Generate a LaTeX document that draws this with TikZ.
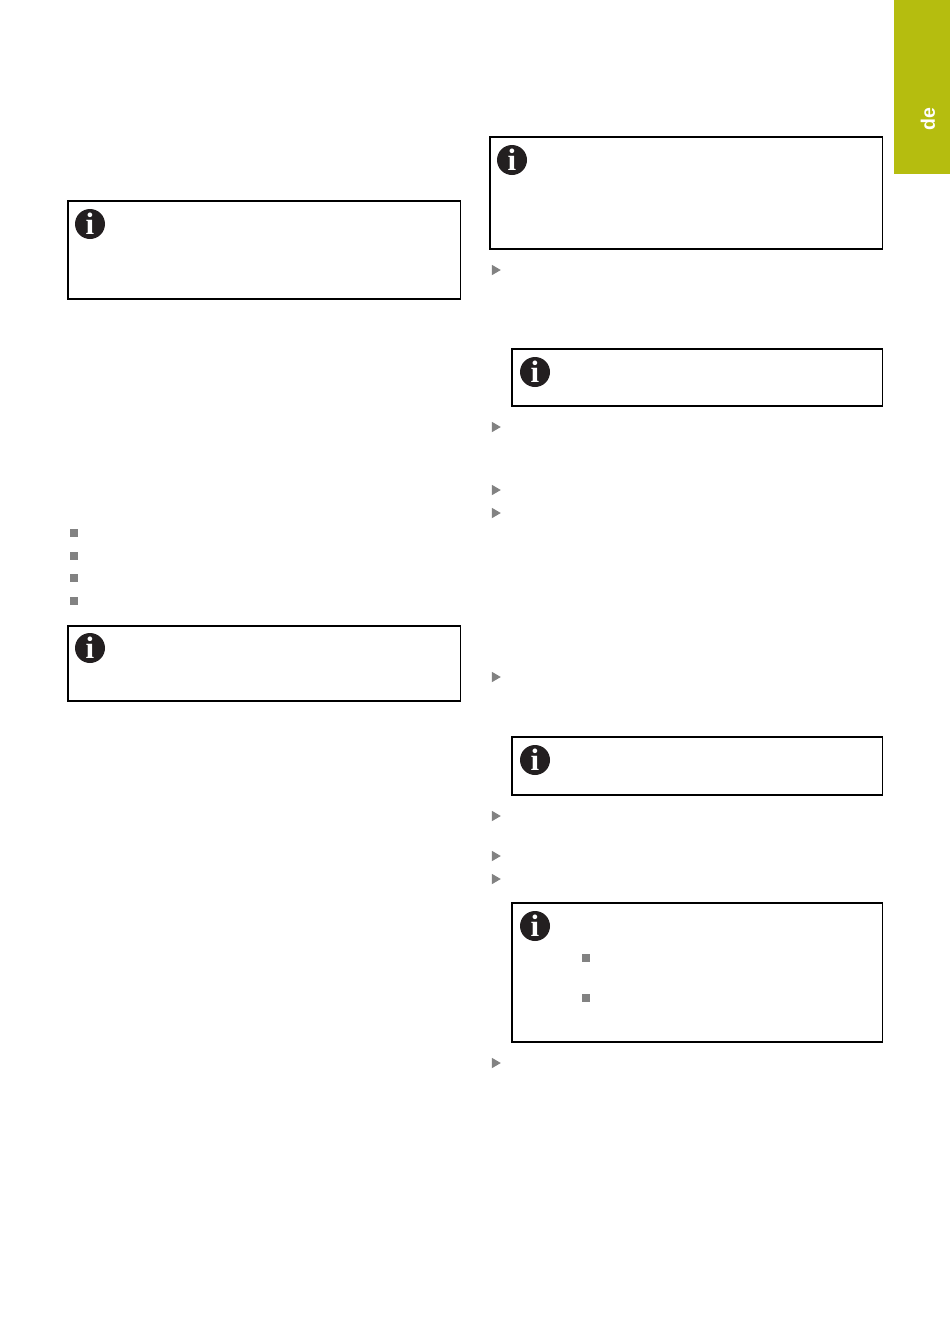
\documentclass[tikz,border=0pt]{standalone}
\usepackage{fontspec}
\setmainfont{Liberation Serif}
\setsansfont{Liberation Sans}
\usetikzlibrary{shapes.geometric}
\definecolor{tabgreen}{HTML}{B5BD0F}
\definecolor{markgrey}{HTML}{828282}
\definecolor{iconblack}{HTML}{231F20}

\begin{document}
\begin{tikzpicture}[x=1pt,y=-1pt,
  info box/.style={rectangle,draw=black,line width=1.2pt,inner sep=0pt,outer sep=0pt},
  info icon/.style={circle,fill=iconblack,text=white,minimum size=30pt,inner sep=0pt,
    font=\fontsize{31}{31}\selectfont\bfseries},
  square mark/.style={rectangle,fill=markgrey,minimum size=7.5pt,inner sep=0pt},
  step mark/.style={isosceles triangle,isosceles triangle stretches,fill=markgrey,
    minimum height=9pt,minimum width=10.5pt,inner sep=0pt}]

  \useasboundingbox (0,0) rectangle (950,1344);

  % side tab
  \node[fill=tabgreen,minimum width=56pt,minimum height=174pt,inner sep=0pt] (tab) at (922,87) {};
  \node[rotate=90,text=white,font=\sffamily\bfseries\fontsize{19.5}{19.5}\selectfont] (lang) at (928,119.5) {de};

  % left column
  \node[info box,minimum width=392.5pt,minimum height=98pt] (box1) at (264.25,250) {};
  \node[info icon] (icon1) at (90,224) {i};
  \node[square mark] (sq1) at (74,533) {};
  \node[square mark] (sq2) at (74,556) {};
  \node[square mark] (sq3) at (74,578) {};
  \node[square mark] (sq4) at (74,601) {};
  \node[info box,minimum width=392.5pt,minimum height=75pt] (box2) at (264.25,663.5) {};
  \node[info icon] (icon2) at (90,648) {i};

  % right column
  \node[info box,minimum width=392.5pt,minimum height=112pt] (box3) at (686.25,193) {};
  \node[info icon] (icon3) at (512,160) {i};
  \node[step mark] (st1) at (494.8,270) {};
  \node[info box,minimum width=370.5pt,minimum height=57pt] (box4) at (697.25,377.5) {};
  \node[info icon] (icon4) at (535,372) {i};
  \node[step mark] (st2) at (494.8,427) {};
  \node[step mark] (st3) at (494.8,490) {};
  \node[step mark] (st4) at (494.8,513) {};
  \node[step mark] (st5) at (494.8,677) {};
  \node[info box,minimum width=370.5pt,minimum height=58pt] (box5) at (697.25,766) {};
  \node[info icon] (icon5) at (535,760) {i};
  \node[step mark] (st6) at (494.8,816) {};
  \node[step mark] (st7) at (494.8,856) {};
  \node[step mark] (st8) at (494.8,879) {};
  \node[info box,minimum width=370.5pt,minimum height=139pt] (box6) at (697.25,972.5) {};
  \node[info icon] (icon6) at (535,926) {i};
  \node[square mark] (sq5) at (586,958) {};
  \node[square mark] (sq6) at (586,998) {};
  \node[step mark] (st9) at (494.8,1063) {};

\end{tikzpicture}
\end{document}
